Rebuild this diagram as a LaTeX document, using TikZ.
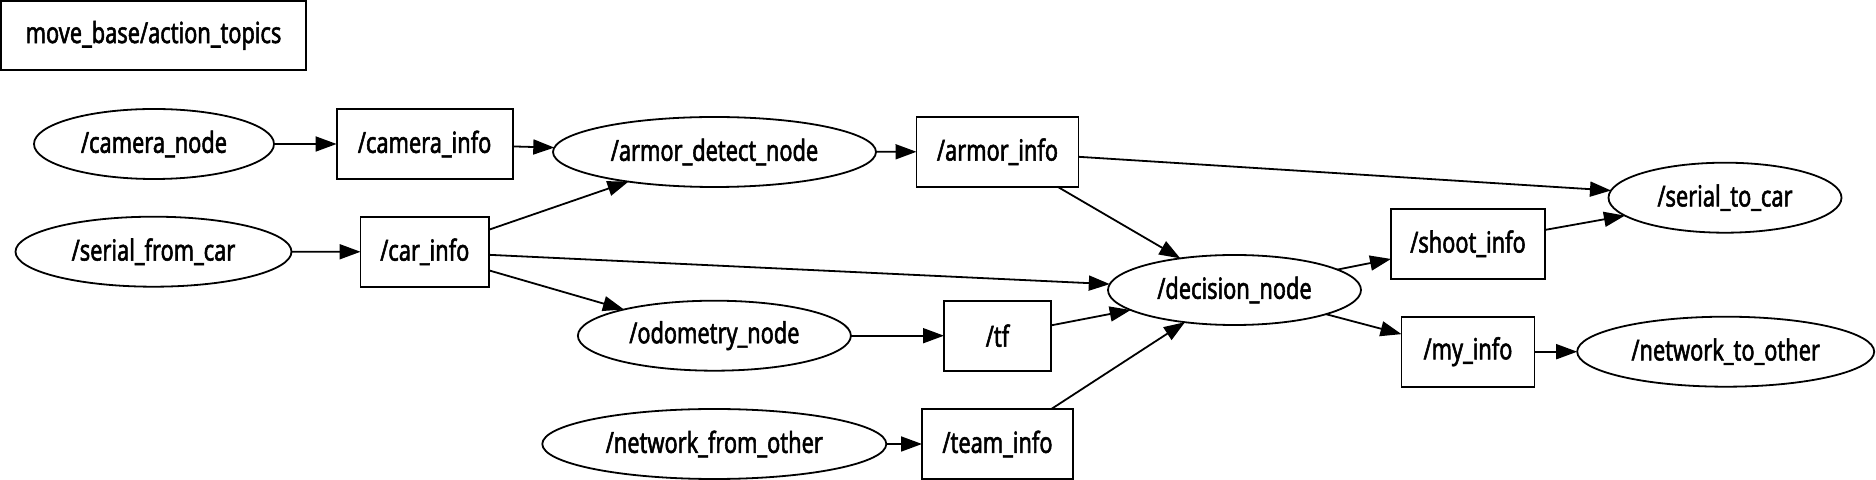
\documentclass[tikz,border=0pt]{standalone}
\usepackage{fontspec}
\setmainfont{Noto Sans}[FakeStretch=0.75,FakeBold=1.8]
\usetikzlibrary{shapes.geometric,arrows.meta}
\begin{document}
\begin{tikzpicture}[x=0.5pt,y=-0.5pt,
  lbl/.style={font=\fontsize{14.5}{17}\selectfont, inner sep=0pt, outer sep=0pt, line width=0.9pt, draw=black},
  topic/.style={lbl, rectangle, minimum height=35pt},
  rosnode/.style={lbl, ellipse, minimum height=35pt},
  conn/.style={-{Triangle[length=10.5pt,width=7.5pt]}, line width=0.9pt}]
\fill[white] (0,0) rectangle (1876,480);
\useasboundingbox (0,0) rectangle (1876,480);

\node[topic, minimum width=152.5pt, minimum height=34.5pt] (mb) at (153.5,35.5) {move\_base/action\_topics};

\node[rosnode, minimum width=120pt] (camnode) at (154,144) {/camera\_node};
\node[topic, minimum width=88pt] (caminfo) at (424.6,144) {/camera\_info};
\node[rosnode, minimum width=161.5pt] (armordet) at (714.5,152) {/armor\_detect\_node};
\node[topic, minimum width=81pt] (armorinfo) at (997.5,151.7) {/armor\_info};

\node[rosnode, minimum width=138pt] (serfrom) at (153.5,251.7) {/serial\_from\_car};
\node[topic, minimum width=64.25pt] (carinfo) at (424.8,251.8) {/car\_info};
\node[rosnode, minimum width=136.5pt] (odom) at (714.4,335.7) {/odometry\_node};
\node[topic, minimum width=53.5pt] (tf) at (997.5,335.7) {/tf};

\node[rosnode, minimum width=172pt] (netfrom) at (714.3,444) {/network\_from\_other};
\node[topic, minimum width=75.5pt] (teaminfo) at (997.5,444) {/team\_info};

\node[rosnode, minimum width=126.5pt] (decision) at (1234.5,290) {/decision\_node};
\node[topic, minimum width=77pt] (shootinfo) at (1468,243.7) {/shoot\_info};
\node[topic, minimum width=66.5pt] (myinfo) at (1468,351.7) {/my\_info};
\node[rosnode, minimum width=116.5pt] (sertocar) at (1725,197.7) {/serial\_to\_car};
\node[rosnode, minimum width=148.5pt] (netto) at (1725.7,351.7) {/network\_to\_other};

\draw[conn] (camnode) -- (caminfo);
\draw[conn] (caminfo) -- (armordet);
\draw[conn] (serfrom) -- (carinfo);
\draw[conn] (carinfo) -- (armordet);
\draw[conn] (carinfo) -- (decision);
\draw[conn] (carinfo) -- (odom);
\draw[conn] (odom) -- (tf);
\draw[conn] (tf) -- (decision);
\draw[conn] (armordet) -- (armorinfo);
\draw[conn] (armorinfo) -- (sertocar);
\draw[conn] (armorinfo) -- (decision);
\draw[conn] (netfrom) -- (teaminfo);
\draw[conn] (teaminfo) -- (decision);
\draw[conn] (decision) -- (shootinfo);
\draw[conn] (decision) -- (myinfo);
\draw[conn] (shootinfo) -- (sertocar);
\draw[conn] (myinfo) -- (netto);
\end{tikzpicture}
\end{document}
